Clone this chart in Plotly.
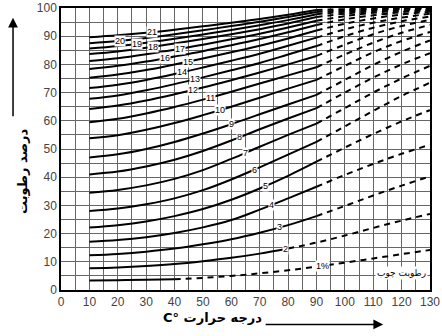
import plotly.graph_objects as go
import numpy as np

temps = [10, 20, 30, 40, 50, 60, 70, 80, 90, 100, 110, 120, 130]

# relative humidity (%) for each wood moisture isoline (1% ... 21%)
rh_1 = [3.4, 3.5, 3.6, 3.8, 4.3, 5.0, 5.9, 7.0, 8.3, 9.7, 11.2, 12.7, 14.2]
rh_2 = [7.7, 8.0, 8.5, 9.2, 10.2, 11.4, 12.9, 14.7, 16.8, 19.3, 22.0, 24.6, 27.0]
rh_3 = [12.3, 12.8, 13.6, 14.7, 16.2, 18.0, 20.3, 23.0, 26.2, 29.8, 33.5, 37.0, 40.3]
rh_4 = [17.1, 17.7, 18.7, 20.2, 22.2, 24.8, 28.5, 32.5, 36.6, 40.8, 44.7, 48.3, 51.5]
rh_5 = [22.2, 23.0, 24.3, 26.2, 28.7, 32.0, 36.0, 40.5, 45.5, 50.5, 55.3, 59.8, 63.8]
rh_6 = [28.0, 28.9, 30.4, 32.5, 35.4, 39.2, 43.5, 48.0, 52.5, 58.0, 63.5, 68.8, 73.5]
rh_7 = [34.5, 35.5, 37.1, 39.4, 42.5, 46.5, 50.8, 55.0, 59.0, 64.5, 70.0, 75.0, 79.5]
rh_8 = [41.0, 42.0, 43.8, 46.2, 49.3, 53.0, 57.0, 60.8, 64.5, 70.0, 75.3, 80.0, 84.0]
rh_9 = [47.0, 48.1, 50.0, 52.5, 55.5, 58.8, 62.3, 65.8, 69.2, 74.5, 79.8, 84.5, 88.5]
rh_10 = [53.8, 54.9, 56.8, 59.2, 62.0, 65.0, 68.2, 71.4, 74.5, 79.5, 84.3, 88.3, 91.5]
rh_11 = [59.5, 60.7, 62.6, 64.9, 67.5, 70.3, 73.2, 76.1, 79.0, 83.5, 87.7, 91.2, 94.0]
rh_12 = [64.2, 65.4, 67.2, 69.4, 71.8, 74.4, 77.1, 80.0, 83.0, 87.0, 90.7, 93.6, 95.8]
rh_13 = [67.8, 69.0, 70.8, 73.0, 75.4, 77.9, 80.5, 83.5, 86.5, 90.0, 93.0, 95.3, 97.0]
rh_14 = [71.6, 72.8, 74.5, 76.6, 78.9, 81.3, 83.8, 86.6, 89.5, 92.4, 94.8, 96.6, 98.0]
rh_15 = [75.3, 76.4, 78.0, 80.0, 82.1, 84.3, 86.6, 89.2, 92.0, 94.4, 96.3, 97.7, 98.7]
rh_16 = [78.4, 79.5, 81.0, 82.8, 84.7, 86.8, 89.0, 91.4, 94.0, 96.0, 97.4, 98.5, 99.2]
rh_17 = [81.2, 82.2, 83.6, 85.2, 87.0, 88.9, 90.9, 93.1, 95.5, 97.1, 98.3, 99.1, 99.6]
rh_18 = [83.7, 84.6, 85.9, 87.4, 89.0, 90.7, 92.5, 94.5, 96.8, 98.0, 98.9, 99.5, 99.8]
rh_19 = [85.6, 86.5, 87.7, 89.1, 90.6, 92.2, 93.9, 95.7, 97.8, 98.7, 99.3, 99.7, 99.9]
rh_20 = [87.5, 88.3, 89.4, 90.7, 92.1, 93.6, 95.1, 96.8, 98.6, 99.2, 99.6, 99.8, 100.0]
rh_21 = [89.6, 90.3, 91.2, 92.3, 93.5, 94.8, 96.1, 97.6, 99.3, 99.6, 99.8, 99.9, 100.0]

curves = [rh_1, rh_2, rh_3, rh_4, rh_5, rh_6, rh_7, rh_8, rh_9, rh_10, rh_11,
          rh_12, rh_13, rh_14, rh_15, rh_16, rh_17, rh_18, rh_19, rh_20, rh_21]
labels = ['1%'] + [str(i) for i in range(2, 22)]
# temperature where the solid line turns dashed
solid_until = [40, 80] + [90] * 19
# where the number sits on each line
label_x = [92, 79, 77, 74, 72, 68, 65, 63, 60, 56, 52.5, 46.6, 47.2, 42.5, 44.8,
           36.6, 41.9, 32.5, 26.6, 20.8, 32]

fig = go.Figure()
t = np.array(temps)
for rh, brk in zip(curves, solid_until):
    rh = np.array(rh)
    solid = t <= brk
    dashed = t >= brk
    fig.add_trace(go.Scatter(x=t[solid], y=rh[solid], mode='lines', line_shape='spline',
                             line=dict(color='black', width=2), showlegend=False,
                             hoverinfo='skip'))
    fig.add_trace(go.Scatter(x=t[dashed], y=rh[dashed], mode='lines', line_shape='spline',
                             line=dict(color='black', width=2, dash='6px,5px'),
                             showlegend=False, hoverinfo='skip'))

# numbers on the isolines
for lab, lx, rh in zip(labels, label_x, curves):
    fig.add_annotation(x=lx, y=float(np.interp(lx, temps, rh)), text=lab, showarrow=False,
                       font=dict(size=9, color='black', family='Liberation Sans'),
                       bgcolor='white', borderpad=0)

fig.add_annotation(x=120, y=6, text='رطوبت چوب', showarrow=False,
                   font=dict(size=9, color='black', family='DejaVu Sans'),
                   bgcolor='white', borderpad=1)

# axis titles with arrows
fig.add_annotation(xref='paper', yref='paper', x=0.41, y=-0.127, text='<b>C° درجه حرارت</b>',
                   showarrow=False, borderpad=0,
                   font=dict(size=13, color='black', family='DejaVu Sans'))
fig.add_annotation(xref='paper', yref='paper', x=0.873, y=-0.122, ax=-119, ay=0,
                   text='', showarrow=True,
                   arrowhead=2, arrowsize=1.3, arrowwidth=1.5, arrowcolor='black')
fig.add_annotation(xref='paper', yref='paper', x=-0.13, y=0.42, text='<b>درصد رطوبت</b>',
                   textangle=-90, showarrow=False,
                   font=dict(size=13, color='black', family='DejaVu Sans'))
fig.add_annotation(xref='paper', yref='paper', x=-0.13, y=0.965, ax=0, ay=100,
                   text='', showarrow=True,
                   arrowhead=2, arrowsize=1.3, arrowwidth=1.5, arrowcolor='black')

axis_style = dict(showgrid=True, gridcolor='#666', gridwidth=1,
                  minor=dict(dtick=5, showgrid=True, gridcolor='#666', gridwidth=1),
                  showline=True, linecolor='black', linewidth=1.5, mirror=True,
                  ticks='', zeroline=False, automargin=False,
                  tickfont=dict(size=12, color='#444', family='Liberation Sans'))
fig.update_xaxes(range=[0, 130], dtick=10, tick0=0, **axis_style)
fig.update_yaxes(range=[0, 100], dtick=10, tick0=0, **axis_style)

fig.update_layout(width=442, height=336, margin=dict(l=61, r=12, t=8, b=46),
                  plot_bgcolor='white', paper_bgcolor='white')

# the page's default body margin would shift the whole chart by 8px
fig.write_html("out.html", config={'displayModeBar': False},
               post_script="document.body.style.margin = '0';")
